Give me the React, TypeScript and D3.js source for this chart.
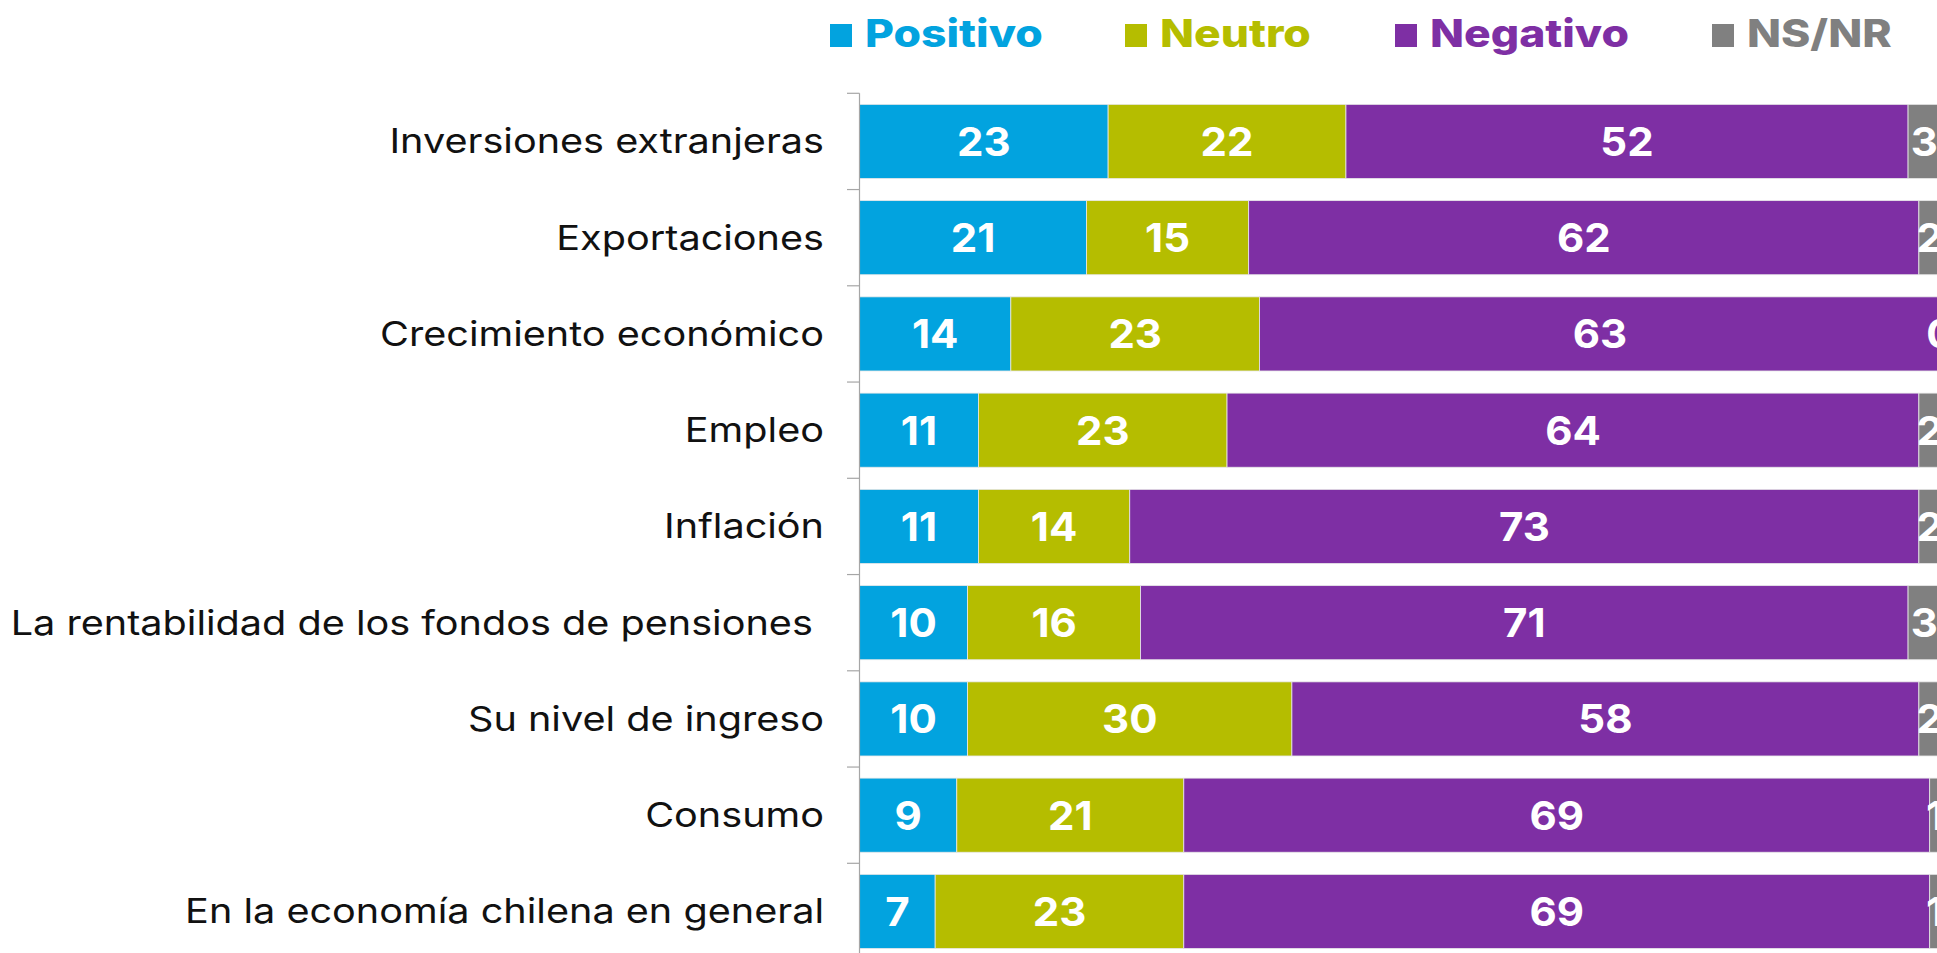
import React from "react";
import * as d3 from "d3";

const categories = [
  "Inversiones extranjeras",
  "Exportaciones",
  "Crecimiento económico",
  "Empleo",
  "Inflación",
  "La rentabilidad de los fondos de pensiones ",
  "Su nivel de ingreso",
  "Consumo",
  "En la economía chilena en general",
];
const seriesNames = ["Positivo", "Neutro", "Negativo", "NS/NR"];
const positivo = [23, 21, 14, 11, 11, 10, 10, 9, 7];
const neutro = [22, 15, 23, 23, 14, 16, 30, 21, 23];
const negativo = [52, 62, 63, 64, 73, 71, 58, 69, 69];
const nsnr = [3, 2, 0, 2, 2, 3, 2, 1, 1];
const colors = ["#02A3DF", "#B5BD00", "#7E2FA4", "#808080"];

const W = 1937;
const H = 953;

export default function App() {
  const seriesValues = [positivo, neutro, negativo, nsnr];
  const rows = categories.map((c, i) => {
    const r: any = { cat: c };
    seriesNames.forEach((s, k) => (r[s] = seriesValues[k][i]));
    return r;
  });
  const stack = d3.stack<any>().keys(seriesNames)(rows);

  const x = d3.scaleLinear().domain([0, 100]).range([859.5, 1940.5]);
  const y = d3
    .scaleBand<string>()
    .domain(categories)
    .range([93.3, 93.3 + 9 * 96.25])
    .paddingInner(0.23)
    .paddingOuter(0.115);

  const step = y.step();
  const font = "Inter, 'Open Sans', sans-serif";

  const legendX = [830, 1125, 1395, 1712];

  return (
    <div style={{ position: "absolute", left: 0, top: 0, width: W, height: H, overflow: "hidden" }}>
      <svg width={W} height={H} style={{ display: "block" }}>
        <rect x={0} y={0} width={W} height={H} fill="#fff" />
        {/* legend */}
        {seriesNames.map((s, k) => (
          <g key={s}>
            <rect x={legendX[k]} y={24} width={22} height={23} fill={colors[k]} />
            <text
              transform={`translate(${legendX[k] + 35},47) scale(1.17,1)`}
              fill={colors[k]}
              fontFamily={font}
              fontWeight={800}
              fontSize={38}
            >
              {s}
            </text>
          </g>
        ))}
        {/* bars */}
        {stack.map((layer, k) => (
          <g key={layer.key}>
            {layer.map((d, i) => {
              const x0 = x(d[0]);
              const x1 = x(d[1]);
              const yy = y(categories[i])!;
              return (
                <rect
                  key={i}
                  x={x0}
                  y={yy}
                  width={Math.max(0, x1 - x0)}
                  height={y.bandwidth()}
                  fill={colors[k]}
                  stroke="#e8e8e8"
                  strokeWidth={0.8}
                />
              );
            })}
          </g>
        ))}
        {stack.map((layer, k) => (
          <g key={"t" + layer.key}>
            {layer.map((d, i) => {
              const cx = (x(d[0]) + x(d[1])) / 2;
              const cy = y(categories[i])! + y.bandwidth() / 2;
              return (
                <text
                  key={i}
                  transform={`translate(${cx},${cy}) scale(1.05,1)`}
                  dy="0.36em"
                  textAnchor="middle"
                  fill="#fff"
                  fontFamily={font}
                  fontWeight={700}
                  fontSize={40}
                >
                  {seriesValues[k][i]}
                </text>
              );
            })}
          </g>
        ))}
        {/* axis */}
        <line x1={859.5} x2={859.5} y1={93.3} y2={H} stroke="#a6a6a6" strokeWidth={1.2} />
        {categories.map((c, i) => (
          <line
            key={"tk" + i}
            x1={847}
            x2={859.5}
            y1={93.3 + i * step}
            y2={93.3 + i * step}
            stroke="#a6a6a6"
            strokeWidth={1.2}
          />
        ))}
        {categories.map((c, i) => (
          <text
            key={"l" + i}
            transform={`translate(824,${y(c)! + y.bandwidth() / 2}) scale(1.165,1)`}
            dy="0.35em"
            textAnchor="end"
            fill="#111"
            fontFamily={font}
            fontWeight={400}
            fontSize={34}
            style={{ whiteSpace: "pre" }}
          >
            {c}
          </text>
        ))}
      </svg>
    </div>
  );
}
